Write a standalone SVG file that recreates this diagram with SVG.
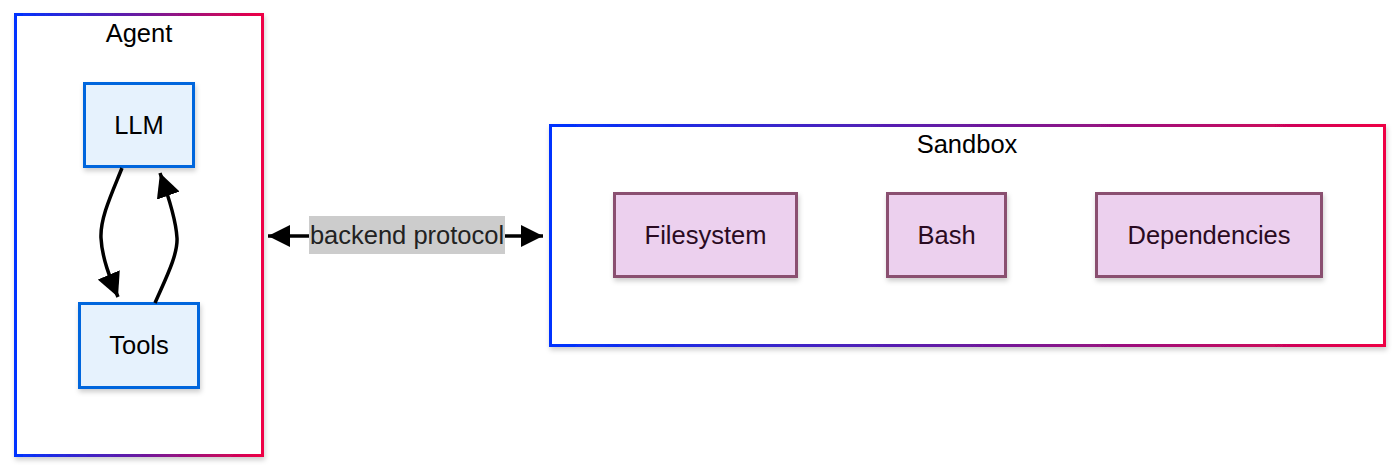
<svg xmlns="http://www.w3.org/2000/svg" width="1400" height="471" viewBox="0 0 1400 471">
<style>
text{font-family:"Liberation Sans",Arial,Helvetica,sans-serif;font-size:25.5px;text-anchor:middle}
.cl{fill:#fff;stroke:url(#g);stroke-width:3}
.ag{fill:#e6f2fd;stroke:#0066dd;stroke-width:3}
.sb{fill:#ecd0ee;stroke:#8a5070;stroke-width:3}
.st{fill:#2a0a22}
.ed{fill:none;stroke:#000;stroke-width:3.5}
</style>
<defs>
<linearGradient id="g" x1="0" y1="0" x2="1" y2="0">
<stop offset="0" stop-color="#0033ff"/>
<stop offset="0.5" stop-color="#6a1aa0"/>
<stop offset="1" stop-color="#ee0044"/>
</linearGradient>
<filter id="sh" x="-20%" y="-20%" width="140%" height="150%">
<feDropShadow dx="1" dy="3" stdDeviation="2.5" flood-color="#000" flood-opacity="0.2"/>
</filter>
<marker id="ah" viewBox="0 0 10 10" refX="10" refY="5" markerWidth="22" markerHeight="22" markerUnits="userSpaceOnUse" orient="auto-start-reverse">
<path d="M0,0 L10,5 L0,10 z" fill="#000"/>
</marker>
<marker id="ah2" viewBox="0 0 10 10" refX="10" refY="5" markerWidth="24" markerHeight="24" markerUnits="userSpaceOnUse" orient="auto">
<path d="M0,0 L10,5 L0,10 z" fill="#000"/>
</marker>
</defs>
<g id="agent">
<rect class="cl" x="15.5" y="14.5" width="247" height="441" filter="url(#sh)"/>
<text x="139" y="42">Agent</text>
</g>
<g id="sandbox">
<rect class="cl" x="550.5" y="125.5" width="834" height="220" filter="url(#sh)"/>
<text x="967" y="153">Sandbox</text>
</g>
<g id="llm">
<rect class="ag" x="84.5" y="83.5" width="109" height="83" filter="url(#sh)"/>
<text x="139" y="134">LLM</text>
</g>
<g id="tools">
<rect class="ag" x="79.5" y="303.5" width="119" height="84" filter="url(#sh)"/>
<text x="139" y="354">Tools</text>
</g>
<g id="filesystem">
<rect class="sb" x="614.5" y="193.5" width="182" height="83" filter="url(#sh)"/>
<text class="st" x="705.5" y="244">Filesystem</text>
</g>
<g id="bash">
<rect class="sb" x="887.5" y="193.5" width="118" height="83" filter="url(#sh)"/>
<text class="st" x="946.5" y="244">Bash</text>
</g>
<g id="dependencies">
<rect class="sb" x="1096.5" y="193.5" width="225" height="83" filter="url(#sh)"/>
<text class="st" x="1209" y="244">Dependencies</text>
</g>
<g id="connectors">
<path class="ed" d="M122,168 C112,193 100,218 101,238 C102,258 110,278 118,297" marker-end="url(#ah2)"/>
<path class="ed" d="M155,303 C165,280 178,255 177,238 C176,220 168,195 160,173" marker-end="url(#ah2)"/>
<path class="ed" d="M268,236 L543,236" marker-start="url(#ah)" marker-end="url(#ah)"/>
<rect x="309" y="216" width="196" height="38" fill="#cccccc"/>
<text x="407" y="244" fill="#222">backend protocol</text>
</g>
</svg>
